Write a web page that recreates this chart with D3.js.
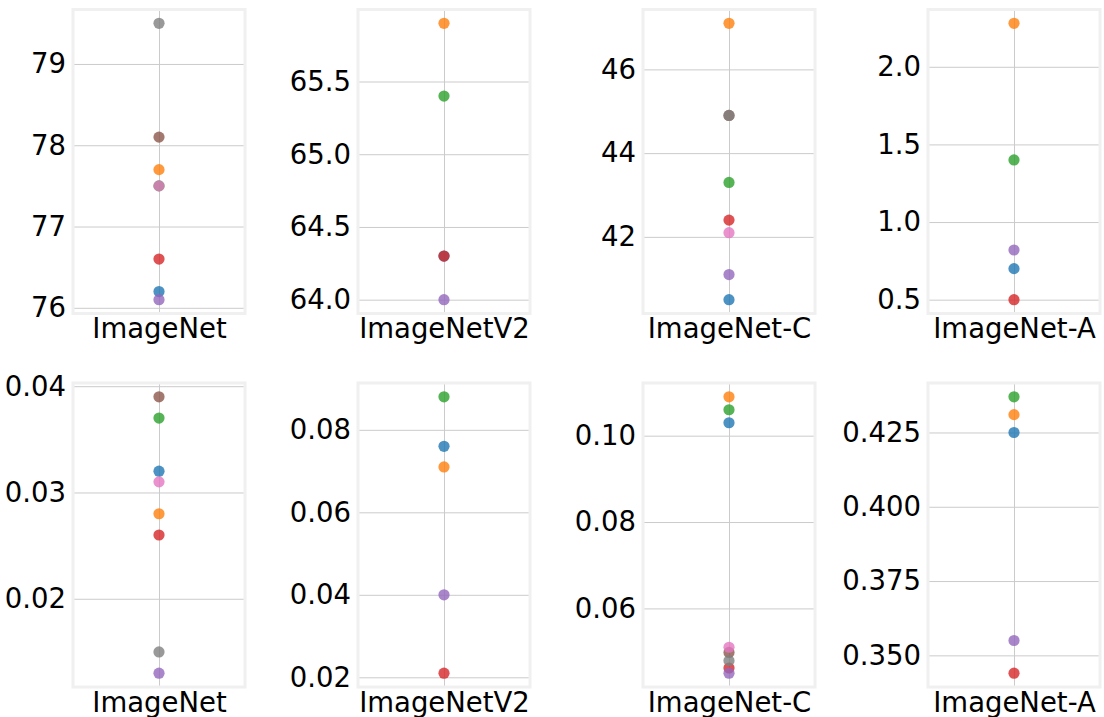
<!DOCTYPE html>
<html>
<head>
<meta charset="utf-8">
<script src="https://cdn.jsdelivr.net/npm/d3@7"></script>
<style>
  html, body { margin: 0; padding: 0; background: #fff; }
  svg { display: block; }
  text { font-family: "DejaVu Sans", sans-serif; }
</style>
</head>
<body>
<svg id="chart" width="1104" height="717"></svg>
<script>
// ---- data ----
const datasets = ["ImageNet", "ImageNetV2", "ImageNet-C", "ImageNet-A"];
const models = ["m1", "m2", "m3", "m4", "m5", "m6", "m7", "m8"];
const modelColors = ["#1f77b4", "#ff7f0e", "#2ca02c", "#d62728", "#9467bd", "#8c564b", "#e377c2", "#7f7f7f"];

// top row metric, per model across datasets (null = not evaluated)
const topRow = [
  [76.2, 64.3, 40.5, 0.70],
  [77.7, 65.9, 47.1, 2.28],
  [77.5, 65.4, 43.3, 1.40],
  [76.6, 64.3, 42.4, 0.50],
  [76.1, 64.0, 41.1, 0.82],
  [78.1, null, 44.9, null],
  [77.5, null, 42.1, null],
  [79.5, null, 44.9, null]
];
// bottom row metric
const bottomRow = [
  [0.032, 0.076, 0.103, 0.425],
  [0.028, 0.071, 0.109, 0.431],
  [0.037, 0.088, 0.106, 0.437],
  [0.026, 0.021, 0.0462, 0.344],
  [0.013, 0.040, 0.0450, 0.355],
  [0.039, null, 0.0498, null],
  [0.031, null, 0.0510, null],
  [0.015, null, 0.0479, null]
];

const topTicks = [
  ["76", "77", "78", "79"],
  ["64.0", "64.5", "65.0", "65.5"],
  ["42", "44", "46"],
  ["0.5", "1.0", "1.5", "2.0"]
];
const bottomTicks = [
  ["0.02", "0.03", "0.04"],
  ["0.02", "0.04", "0.06", "0.08"],
  ["0.06", "0.08", "0.10"],
  ["0.350", "0.375", "0.400", "0.425"]
];

// ---- layout ----
const svg = d3.select("#chart");
const colLeft = [73, 358, 643, 928];
const panelW = 172;
const rowTop = [9.5, 383];
const panelH = 304;
const fontSize = 27.5;

const rows = [
  { values: topRow, ticks: topTicks },
  { values: bottomRow, ticks: bottomTicks }
];

rows.forEach((row, ri) => {
  datasets.forEach((ds, ci) => {
    const left = colLeft[ci], top = rowTop[ri];
    const g = svg.append("g").attr("transform", `translate(${left},${top})`);

    const pts = models.map((m, mi) => ({ m, mi, v: row.values[mi][ci] }))
      .filter(d => d.v !== null);
    const ext = d3.extent(pts, d => d.v);
    const pad = (ext[1] - ext[0]) * 0.05;
    const y = d3.scaleLinear().domain([ext[0] - pad, ext[1] + pad]).range([panelH, 0]);
    const x = d3.scalePoint().domain([ds]).range([0, panelW]).padding(0.5);

    const tickVals = row.ticks[ci].map(Number);
    const fmtMap = new Map(row.ticks[ci].map(t => [Number(t), t]));

    // horizontal grid
    const yAxis = d3.axisLeft(y).tickValues(tickVals).tickSize(-panelW).tickFormat(d => fmtMap.get(d)).tickPadding(7);
    const ya = g.append("g").call(yAxis);
    ya.select(".domain").remove();
    ya.selectAll(".tick line").attr("stroke", "#cbcbcb").attr("stroke-width", 1);
    ya.selectAll(".tick text").attr("font-size", fontSize).attr("fill", "#000")
      .attr("font-family", "DejaVu Sans, sans-serif");

    // vertical grid + x label
    const xAxis = d3.axisBottom(x).tickSize(-panelH);
    const xa = g.append("g").attr("transform", `translate(0,${panelH})`).call(xAxis);
    xa.select(".domain").remove();
    xa.selectAll(".tick line").attr("stroke", "#cbcbcb").attr("stroke-width", 1);
    xa.selectAll(".tick text").attr("font-size", fontSize).attr("fill", "#000")
      .attr("font-family", "DejaVu Sans, sans-serif")
      .attr("y", 24.5).attr("dy", 0);

    // frame
    g.append("rect").attr("x", 0).attr("y", 0).attr("width", panelW).attr("height", panelH)
      .attr("fill", "none").attr("stroke", "#f0f0f0").attr("stroke-width", 3);

    // points
    g.append("g").selectAll("circle").data(pts).join("circle")
      .attr("cx", x(ds))
      .attr("cy", d => y(d.v))
      .attr("r", 5.6)
      .attr("fill", d => modelColors[d.mi])
      .attr("fill-opacity", 0.8);
  });
});
</script>
</body>
</html>
